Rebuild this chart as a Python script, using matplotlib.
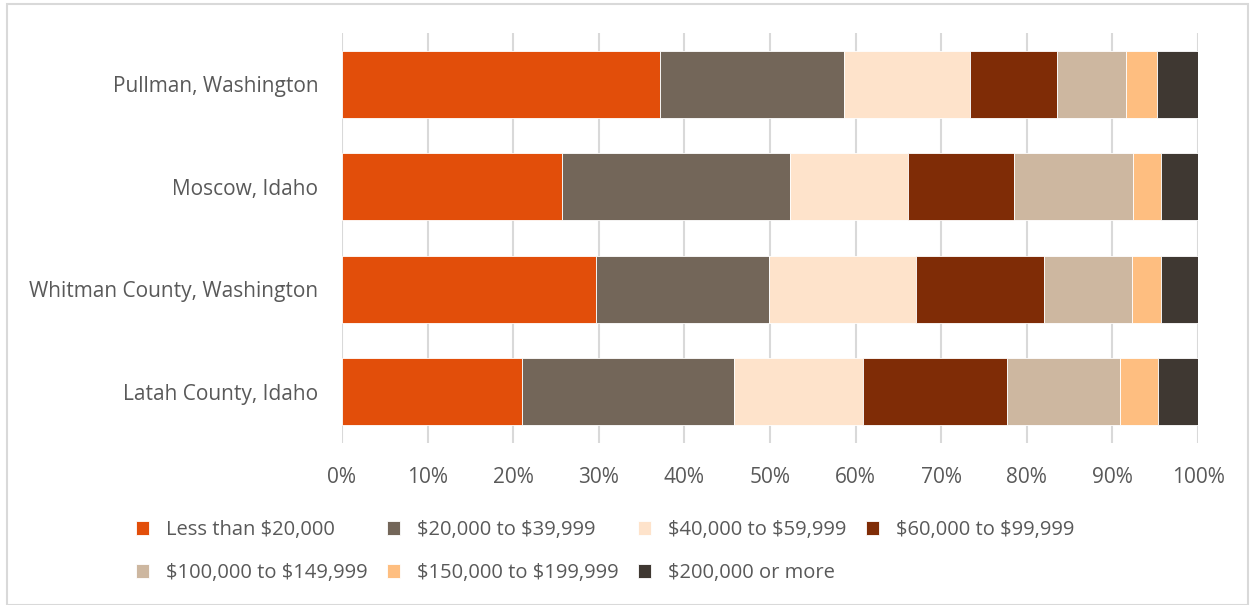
import matplotlib.pyplot as plt
from matplotlib.patches import Rectangle
from matplotlib.ticker import PercentFormatter

places = ['Pullman, Washington', 'Moscow, Idaho', 'Whitman County, Washington', 'Latah County, Idaho']
brackets = ['Less than $20,000', '$20,000 to $39,999', '$40,000 to $59,999', '$60,000 to $99,999',
            '$100,000 to $149,999', '$150,000 to $199,999', '$200,000 or more']
colors = ['#E24E0A', '#736659', '#FEE3CB', '#7F2C06', '#CDB7A0', '#FEBE80', '#3F3832']

# share of households (%) per bracket, one list per place
pullman = [37.1, 21.5, 14.8, 10.1, 8.1, 3.6, 4.8]
moscow = [25.7, 26.6, 13.8, 12.4, 13.9, 3.3, 4.3]
whitman = [29.7, 20.2, 17.2, 14.9, 10.3, 3.4, 4.3]
latah = [21.0, 24.8, 15.1, 16.8, 13.2, 4.4, 4.7]
shares = [pullman, moscow, whitman, latah]

plt.rcParams['font.family'] = ['Open Sans', 'DejaVu Sans']
plt.rcParams['text.parse_math'] = False
txt = '#595959'

fig = plt.figure(figsize=(12.53, 6.05), dpi=100)
ax = fig.add_axes([342 / 1253, 1 - 443 / 605, 856 / 1253, 410 / 605])

ypos = list(range(len(places)))
handles = []
for j, name in enumerate(brackets):
    vals = [s[j] for s in shares]
    left = [sum(s[:j]) for s in shares]
    tot = [sum(s) for s in shares]
    vals = [v / t * 100 for v, t in zip(vals, tot)]
    left = [l / t * 100 for l, t in zip(left, tot)]
    h = ax.barh(ypos, vals, left=left, height=0.65, color=colors[j],
                edgecolor='white', linewidth=0.6, label=name, zorder=3)
    handles.append(h)

ax.set_xlim(0, 100)
ax.set_ylim(len(places) - 0.5, -0.5)
ax.set_yticks(ypos)
ax.set_yticklabels(places)
ax.set_xticks(range(0, 101, 10))
ax.xaxis.set_major_formatter(PercentFormatter(decimals=0))
ax.grid(axis='x', color='#d9d9d9', linewidth=1.5, zorder=0)
for s in ax.spines.values():
    s.set_visible(False)
ax.tick_params(axis='y', length=0, pad=17, labelsize=15, labelcolor=txt)
ax.tick_params(axis='x', length=0, pad=17, labelsize=15, labelcolor=txt)

order = [0, 4, 1, 5, 2, 6, 3]
leg = fig.legend([handles[i] for i in order], [brackets[i] for i in order],
                 ncol=4, loc='upper left', bbox_to_anchor=(136 / 1253, 1 - 520 / 605),
                 borderpad=0, borderaxespad=0,
                 frameon=False, fontsize=14.5, labelcolor=txt, handlelength=0.65,
                 handleheight=0.65, handletextpad=0.85, columnspacing=0.95, labelspacing=1.15)

fig.patches.append(Rectangle((7 / 1253, 0), 1241 / 1253, 1 - 4 / 605, transform=fig.transFigure,
                             fill=False, edgecolor='#d9d9d9', linewidth=1.5))

fig.savefig('out.png', dpi=100)
